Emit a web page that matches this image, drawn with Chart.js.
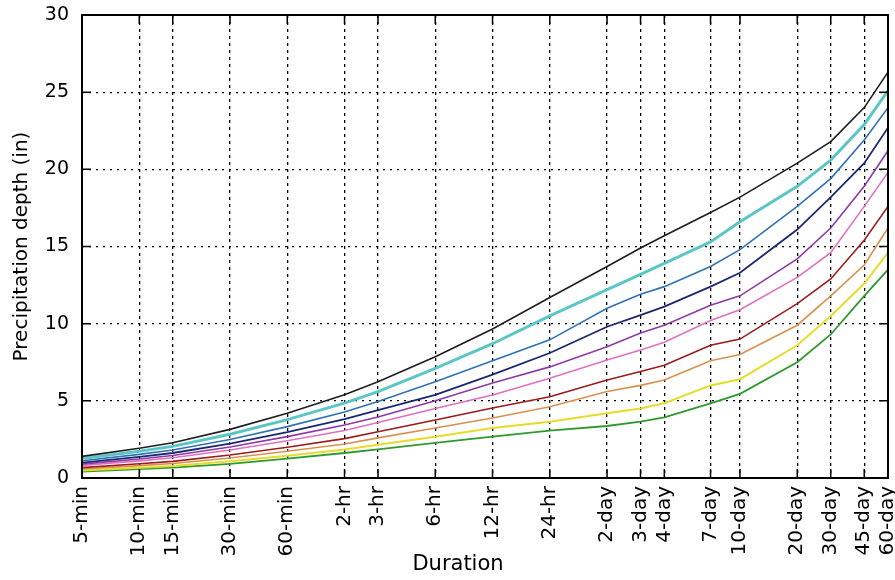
<!DOCTYPE html>
<html>
<head>
<meta charset="utf-8">
<title>Precipitation depth vs duration</title>
<script src="https://cdn.jsdelivr.net/npm/chart.js@4.4.0/dist/chart.umd.min.js"></script>
<style>
    html, body { margin: 0; padding: 0; background: #fff; }
</style>
</head>
<body>
<canvas id="ddfChart" width="895" height="580"></canvas>
<script>
// durations (labels) and the same durations in minutes for the log axis
const durations = ['5-min', '10-min', '15-min', '30-min', '60-min', '2-hr', '3-hr', '6-hr', '12-hr', '24-hr',
    '2-day', '3-day', '4-day', '7-day', '10-day', '20-day', '30-day', '45-day', '60-day'];
const minutes = [5, 10, 15, 30, 60, 120, 180, 360, 720, 1440, 2880, 4320, 5760, 10080, 14400, 28800, 43200, 64800, 86400];
const yTicks = [0, 5, 10, 15, 20, 25, 30];

// depth (in) per return period
const ari1000 = [1.40, 1.93, 2.28, 3.15, 4.20, 5.40, 6.24, 7.86, 9.65, 11.7, 13.7, 14.9, 15.7, 17.2, 18.2, 20.4, 21.8, 24.0, 26.3];
const ari500  = [1.27, 1.74, 2.05, 2.84, 3.78, 4.85, 5.60, 7.10, 8.70, 10.5, 12.2, 13.2, 13.9, 15.3, 16.6, 18.9, 20.6, 22.9, 25.1];
const ari200  = [1.12, 1.53, 1.81, 2.50, 3.33, 4.27, 4.95, 6.24, 7.60, 8.95, 11.0, 11.9, 12.4, 13.7, 14.8, 17.6, 19.4, 21.9, 24.0];
const ari100  = [1.00, 1.37, 1.62, 2.23, 2.97, 3.82, 4.40, 5.38, 6.70, 8.10, 9.80, 10.55, 11.1, 12.4, 13.3, 16.1, 18.2, 20.4, 22.7];
const ari50   = [0.90, 1.23, 1.46, 2.01, 2.68, 3.43, 3.95, 5.00, 6.15, 7.20, 8.50, 9.40, 9.90, 11.2, 11.8, 14.2, 16.2, 18.9, 21.2];
const ari25   = [0.81, 1.11, 1.31, 1.81, 2.41, 3.08, 3.60, 4.50, 5.38, 6.47, 7.65, 8.30, 8.80, 10.2, 10.9, 13.0, 14.6, 17.6, 19.8];
const ari10   = [0.67, 0.92, 1.08, 1.49, 1.99, 2.55, 3.00, 3.76, 4.54, 5.27, 6.35, 6.90, 7.30, 8.60, 9.00, 11.3, 12.9, 15.4, 17.6];
const ari5    = [0.58, 0.80, 0.94, 1.30, 1.73, 2.20, 2.60, 3.24, 3.89, 4.62, 5.60, 6.00, 6.35, 7.60, 8.00, 9.90, 11.8, 13.8, 16.2];
const ari2    = [0.48, 0.66, 0.78, 1.08, 1.44, 1.85, 2.15, 2.68, 3.24, 3.65, 4.19, 4.50, 4.84, 6.00, 6.40, 8.60, 10.5, 12.6, 14.6];
const ari1    = [0.41, 0.57, 0.67, 0.92, 1.25, 1.62, 1.85, 2.27, 2.68, 3.07, 3.37, 3.65, 3.93, 4.84, 5.45, 7.50, 9.30, 11.8, 13.5];

const series = [
    { label: '1000-year', data: ari1000, color: '#1e1e1e', width: 1.6 },
    { label: '500-year', data: ari500, color: '#5cc6c6', width: 3 },
    { label: '200-year', data: ari200, color: '#2f72b4', width: 1.6 },
    { label: '100-year', data: ari100, color: '#1b2870', width: 1.8 },
    { label: '50-year', data: ari50, color: '#8e3aa6', width: 1.6 },
    { label: '25-year', data: ari25, color: '#e070c0', width: 1.6 },
    { label: '10-year', data: ari10, color: '#9b1c1c', width: 1.6 },
    { label: '5-year', data: ari5, color: '#d8914c', width: 1.6 },
    { label: '2-year', data: ari2, color: '#e6dc2a', width: 2 },
    { label: '1-year', data: ari1, color: '#2e9a2e', width: 1.8 }
];

Chart.defaults.font.family = '"DejaVu Sans", sans-serif';
Chart.defaults.font.size = 19;
Chart.defaults.color = '#000';

// box around the plot, the inward tick marks (matplotlib style) and the x title
const frame = {
    id: 'frame',
    afterDraw(chart) {
        const { ctx, chartArea: a, scales } = chart;
        ctx.save();
        ctx.strokeStyle = '#000';
        ctx.lineWidth = 1.5;
        minutes.forEach(m => {
            const x = scales.x.getPixelForValue(m);
            ctx.beginPath();
            ctx.moveTo(x, a.bottom); ctx.lineTo(x, a.bottom - 9);
            ctx.moveTo(x, a.top); ctx.lineTo(x, a.top + 9);
            ctx.stroke();
        });
        yTicks.forEach(v => {
            const y = scales.y.getPixelForValue(v);
            ctx.beginPath();
            ctx.moveTo(a.left, y); ctx.lineTo(a.left + 9, y);
            ctx.moveTo(a.right, y); ctx.lineTo(a.right - 9, y);
            ctx.stroke();
        });
        ctx.lineWidth = 2;
        ctx.strokeRect(a.left, a.top, a.right - a.left, a.bottom - a.top);

        ctx.fillStyle = '#000';
        ctx.font = '21px "DejaVu Sans", sans-serif';
        ctx.textAlign = 'center';
        ctx.textBaseline = 'middle';
        ctx.fillText('Duration', (a.left + a.right) / 2 - 27, chart.height - 15);
        ctx.restore();
    }
};

const ctx = document.getElementById('ddfChart');
new Chart(ctx, {
    type: 'line',
    data: {
        datasets: series.map(s => ({
            label: s.label,
            data: s.data.map((v, i) => ({ x: minutes[i], y: v })),
            borderColor: s.color,
            borderWidth: s.width,
            pointRadius: 0,
            fill: false,
            tension: 0
        }))
    },
    options: {
        responsive: false,
        animation: false,
        devicePixelRatio: 1,
        layout: { padding: { top: 15, right: 7, left: 0, bottom: 0 } },
        plugins: {
            legend: { display: false },
            tooltip: { enabled: false }
        },
        scales: {
            x: {
                type: 'logarithmic',
                min: 5,
                max: 86400,
                afterBuildTicks: axis => {
                    axis.ticks = minutes.map(m => ({ value: m }));
                },
                afterFit: axis => {
                    axis.height = 102;
                    axis.paddingLeft = 0;
                    axis.paddingRight = 0;
                },
                ticks: {
                    autoSkip: false,
                    minRotation: 90,
                    maxRotation: 90,
                    padding: 8,
                    font: { size: 20 },
                    callback: value => {
                        const i = minutes.indexOf(value);
                        return i >= 0 ? durations[i] : '';
                    }
                },
                grid: { color: '#000', lineWidth: 1.3, drawTicks: false },
                border: { display: false, dash: [3, 4] }
            },
            y: {
                min: 0,
                max: 30,
                afterBuildTicks: axis => {
                    axis.ticks = yTicks.map(v => ({ value: v }));
                },
                afterFit: axis => {
                    axis.width = 82;
                    axis.paddingTop = 0;
                    axis.paddingBottom = 0;
                },
                ticks: { padding: 13, font: { size: 19 } },
                grid: { color: '#000', lineWidth: 1.3, drawTicks: false },
                border: { display: false, dash: [2, 5] },
                title: {
                    display: true,
                    text: 'Precipitation depth (in)',
                    font: { size: 20 },
                    padding: { top: 10, bottom: 0 }
                }
            }
        }
    },
    plugins: [frame]
});
</script>
</body>
</html>
